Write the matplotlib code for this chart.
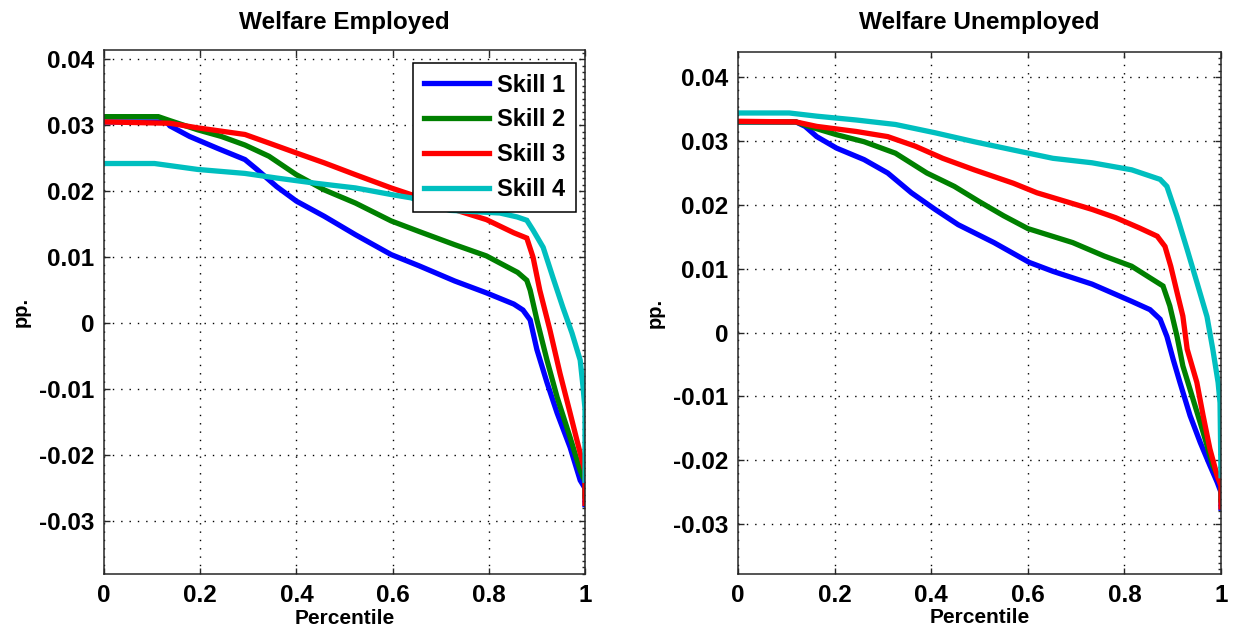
import matplotlib
matplotlib.use("Agg")
import matplotlib.pyplot as plt
from matplotlib.ticker import FixedLocator, MultipleLocator

plt.rcParams['font.family'] = ['Liberation Sans', 'DejaVu Sans']

# ---------------- data ----------------
titles = ["Welfare Employed", "Welfare Unemployed"]
series_names = ["Skill 1", "Skill 2", "Skill 3", "Skill 4"]
x_ticks = [0, 0.2, 0.4, 0.6, 0.8, 1.0]
x_tick_labels = ["0", "0.2", "0.4", "0.6", "0.8", "1"]
y_ticks = [-0.03, -0.02, -0.01, 0, 0.01, 0.02, 0.03, 0.04]
y_tick_labels = ["-0.03", "-0.02", "-0.01", "0", "0.01", "0.02", "0.03", "0.04"]

# Welfare Employed
emp_s1_x = [0, 0.13, 0.137, 0.178, 0.236, 0.293, 0.318, 0.359, 0.400, 0.458, 0.523, 0.597, 0.655, 0.729,
            0.795, 0.852, 0.871, 0.886, 0.900, 0.921, 0.942, 0.969, 0.990, 1.0, 1.0]
emp_s1_y = [0.0305, 0.0305, 0.0299, 0.0283, 0.0265, 0.0248, 0.0233, 0.0207, 0.0185, 0.0162, 0.0134, 0.0104,
            0.0087, 0.0064, 0.0046, 0.0029, 0.0020, 0.0005, -0.0040, -0.0090, -0.0136, -0.0188, -0.0238,
            -0.0250, -0.0275]
emp_s2_x = [0, 0.113, 0.137, 0.195, 0.244, 0.293, 0.343, 0.400, 0.458, 0.523, 0.597, 0.655, 0.729, 0.795,
            0.860, 0.879, 0.886, 0.900, 0.921, 0.942, 0.969, 0.990, 1.0, 1.0]
emp_s2_y = [0.0313, 0.0313, 0.0307, 0.0293, 0.0283, 0.0270, 0.0253, 0.0225, 0.0202, 0.0182, 0.0155, 0.0139,
            0.0119, 0.0102, 0.0077, 0.0065, 0.0050, 0.0005, -0.0056, -0.0112, -0.0173, -0.0223, -0.0240,
            -0.0262]
emp_s3_x = [0, 0.137, 0.195, 0.244, 0.293, 0.343, 0.400, 0.458, 0.523, 0.597, 0.638, 0.729, 0.795, 0.852,
            0.879, 0.892, 0.906, 0.927, 0.948, 0.969, 0.990, 1.0, 1.0]
emp_s3_y = [0.0305, 0.0303, 0.0296, 0.0291, 0.0286, 0.0273, 0.0258, 0.0243, 0.0225, 0.0205, 0.0195, 0.0172,
            0.0157, 0.0137, 0.0129, 0.0100, 0.0050, -0.0010, -0.0076, -0.0136, -0.0197, -0.0225, -0.0273]
emp_s4_x = [0, 0.105, 0.195, 0.293, 0.359, 0.441, 0.523, 0.597, 0.638, 0.719, 0.823, 0.859, 0.879, 0.892,
            0.913, 0.933, 0.954, 0.973, 0.990, 0.996, 1.0, 1.0]
emp_s4_y = [0.0242, 0.0242, 0.0233, 0.0227, 0.0220, 0.0212, 0.0205, 0.0195, 0.0190, 0.0171, 0.0167, 0.0161,
            0.0156, 0.0141, 0.0115, 0.0070, 0.0024, -0.0015, -0.0056, -0.0097, -0.0130, -0.0238]

# Welfare Unemployed
unemp_s1_x = [0, 0.12, 0.139, 0.163, 0.204, 0.261, 0.310, 0.359, 0.408, 0.456, 0.530, 0.603, 0.652, 0.733,
              0.815, 0.853, 0.874, 0.888, 0.901, 0.915, 0.936, 0.957, 0.977, 0.992, 1.0, 1.0]
unemp_s1_y = [0.0330, 0.0330, 0.0323, 0.0307, 0.0289, 0.0271, 0.0250, 0.0219, 0.0193, 0.0169, 0.0141, 0.0110,
              0.0096, 0.0076, 0.0049, 0.0036, 0.0021, -0.0006, -0.0042, -0.0078, -0.0130, -0.0172, -0.0208,
              -0.0234, -0.0250, -0.0275]
unemp_s2_x = [0, 0.12, 0.147, 0.204, 0.261, 0.326, 0.391, 0.448, 0.500, 0.550, 0.600, 0.693, 0.758, 0.815,
              0.859, 0.880, 0.894, 0.909, 0.921, 0.942, 0.963, 0.983, 1.0, 1.0]
unemp_s2_y = [0.0330, 0.0330, 0.0323, 0.0310, 0.0299, 0.0281, 0.0250, 0.0229, 0.0205, 0.0183, 0.0163, 0.0141,
              0.0120, 0.0104, 0.0083, 0.0073, 0.0042, -0.0006, -0.0052, -0.0104, -0.0156, -0.0208, -0.0235,
              -0.0262]
unemp_s3_x = [0, 0.12, 0.163, 0.245, 0.310, 0.367, 0.424, 0.489, 0.570, 0.619, 0.676, 0.733, 0.782, 0.831,
              0.868, 0.884, 0.896, 0.909, 0.921, 0.930, 0.950, 0.963, 0.977, 0.992, 1.0, 1.0]
unemp_s3_y = [0.0331, 0.0330, 0.0323, 0.0315, 0.0307, 0.0292, 0.0273, 0.0255, 0.0234, 0.0219, 0.0206, 0.0193,
              0.0180, 0.0164, 0.0151, 0.0135, 0.0104, 0.0063, 0.0026, -0.0026, -0.0078, -0.0130, -0.0182,
              -0.0224, -0.0240, -0.0273]
unemp_s4_x = [0, 0.106, 0.163, 0.245, 0.326, 0.408, 0.489, 0.570, 0.652, 0.733, 0.815, 0.874, 0.888, 0.909,
              0.930, 0.950, 0.971, 0.983, 0.994, 0.998, 1.0]
unemp_s4_y = [0.0344, 0.0344, 0.0339, 0.0333, 0.0326, 0.0313, 0.0299, 0.0286, 0.0273, 0.0266, 0.0255, 0.0240,
              0.0229, 0.0182, 0.0130, 0.0079, 0.0025, -0.0026, -0.0078, -0.0110, -0.0224]

panels = [
    [(emp_s1_x, emp_s1_y), (emp_s2_x, emp_s2_y), (emp_s3_x, emp_s3_y), (emp_s4_x, emp_s4_y)],
    [(unemp_s1_x, unemp_s1_y), (unemp_s2_x, unemp_s2_y), (unemp_s3_x, unemp_s3_y), (unemp_s4_x, unemp_s4_y)],
]
ylims = [(-0.038, 0.0414), (-0.0378, 0.04395)]
colors = ["#0000ff", "#008000", "#ff0000", "#00bfbf"]

# ---------------- figure ----------------
fig = plt.figure(figsize=(12.33, 6.35), dpi=100)
positions = [[104 / 1233, 1 - 574 / 635, 481 / 1233, 524 / 635],
             [738 / 1233, 1 - 574 / 635, 483 / 1233, 522 / 635]]

for i, (pos, data) in enumerate(zip(positions, panels)):
    ax = fig.add_axes(pos)
    for (xs, ys), c, name in zip(data, colors, series_names):
        ax.plot(xs, ys, color=c, lw=3.8, label=name, solid_joinstyle='miter')
    ax.set_xlim(0, 1)
    ax.set_ylim(*ylims[i])
    ax.xaxis.set_major_locator(FixedLocator(x_ticks))
    ax.set_xticklabels(x_tick_labels)
    ax.yaxis.set_major_locator(FixedLocator(y_ticks))
    ax.set_yticklabels(y_tick_labels)
    ax.yaxis.set_minor_locator(MultipleLocator(0.001))
    ax.tick_params(which='major', direction='in', length=4, width=1, top=True, right=True,
                   labelsize=17.5, pad=7, color='#262626')
    ax.tick_params(which='minor', direction='in', length=2.5, width=1, left=False, right=True,
                   color='#262626')
    for lab in ax.get_xticklabels() + ax.get_yticklabels():
        lab.set_fontweight('bold')
    ax.grid(True, which='major', color='black', linestyle=(0, (1, 5)), linewidth=1.0)
    for sp in ax.spines.values():
        sp.set_linewidth(1.1)
        sp.set_color('#262626')
    # title placed at a fixed figure height (same for both panels)
    fig.text(pos[0] + pos[2] / 2, 1 - 22 / 635, titles[i], fontsize=17.5, fontweight='bold',
             ha='center', va='center')
    ax.set_xlabel("Percentile", fontsize=15, fontweight='bold')
    ax.xaxis.set_label_coords(0.5, -0.066)
    ax.xaxis.label.set_va('top')
    ax.set_ylabel("pp.", fontsize=14.5, fontweight='bold')
    ax.yaxis.set_label_coords(-73 / 481, 0.5)
    if i == 0:
        leg = ax.legend(loc='upper right', bbox_to_anchor=((576 - 104) / 481, (574 - 63) / 524),
                        borderaxespad=0, prop={'weight': 'bold', 'size': 17},
                        handlelength=2.75, handletextpad=0.35, borderpad=0.45, labelspacing=0.5,
                        fancybox=False, framealpha=1, edgecolor='black')
        leg.get_frame().set_linewidth(1.1)

fig.savefig("out.png", dpi=100)
